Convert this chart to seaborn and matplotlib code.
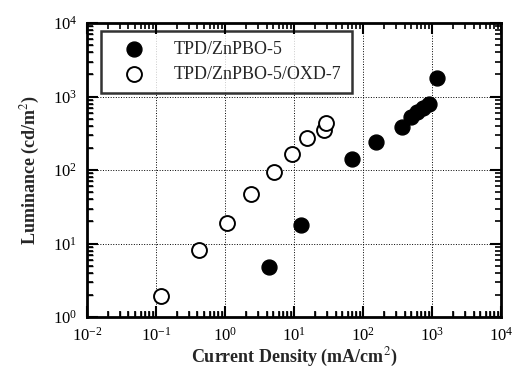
import matplotlib
matplotlib.use("Agg")
import matplotlib.pyplot as plt
import seaborn as sns
import pandas as pd

sns.set_theme(style="ticks")
plt.rcParams['font.family'] = ['Liberation Serif', 'DejaVu Serif']
plt.rcParams['mathtext.fontset'] = 'stix'

series_a = "TPD/ZnPBO-5"
series_b = "TPD/ZnPBO-5/OXD-7"

j_a = [4.3, 12.6, 69, 155, 367, 500, 605, 740, 905, 1180]
l_a = [4.8, 17.8, 141, 240, 385, 525, 615, 700, 790, 1780]

j_b = [0.12, 0.42, 1.07, 2.4, 5.1, 9.4, 15.4, 27, 29]
l_b = [1.93, 8.1, 19, 47, 94, 165, 272, 350, 436]

df_a = pd.DataFrame({"J": j_a, "L": l_a})
df_b = pd.DataFrame({"J": j_b, "L": l_b})

rect = [0.169, 0.161, 0.806, 0.778]
fig = plt.figure(figsize=(5.14, 3.78), dpi=100)
ax = fig.add_axes(rect)

sns.scatterplot(data=df_a, x="J", y="L", ax=ax, s=115, color="black",
                edgecolor="black", linewidth=1, label=series_a)
sns.scatterplot(data=df_b, x="J", y="L", ax=ax, s=115, facecolor="white",
                edgecolor="black", linewidth=1.4, label=series_b)

ax.set_xscale("log")
ax.set_yscale("log")
ax.set_xlim(1e-2, 1e4)
ax.set_ylim(1e0, 1e4)
ax.tick_params(which="both", direction="in", colors="black", labelsize=12, pad=7)

ax.xaxis.grid(True, which="major", linestyle=":", color="black", linewidth=0.7)
ax.yaxis.grid(True, which="major", linestyle=":", color="black", linewidth=0.7)

for sp in ax.spines.values():
    sp.set_color("black")
    sp.set_linewidth(2)

ax.set_xlabel("Current Density (mA/cm$^2$)", fontsize=13, fontweight="bold", labelpad=1)
ax.set_ylabel("Luminance (cd/m$^2$)", fontsize=13, fontweight="bold", labelpad=8)

leg = ax.legend(loc="upper left", bbox_to_anchor=(0.025, 0.985), fontsize=13,
                frameon=True, fancybox=False, edgecolor="black", borderpad=0.55,
                handlelength=2.6, handletextpad=0.9, labelspacing=0.45,
                markerscale=1.0, borderaxespad=0.2)
leg.get_frame().set_linewidth(1.8)

# overlay axes that carries the inward tick marks on all four sides
tk = fig.add_axes(rect, facecolor="none")
tk.set_xscale("log")
tk.set_yscale("log")
tk.set_xlim(1e-2, 1e4)
tk.set_ylim(1e0, 1e4)
tk.tick_params(which="both", direction="in", bottom=True, left=True, top=True,
               right=True, colors="black", labelbottom=False, labelleft=False,
               labeltop=False, labelright=False)
tk.tick_params(which="major", length=8, width=1.5)
tk.tick_params(which="minor", length=4, width=1.2)
for sp in tk.spines.values():
    sp.set_visible(False)
tk.patch.set_visible(False)

fig.savefig("out.png", dpi=100)
